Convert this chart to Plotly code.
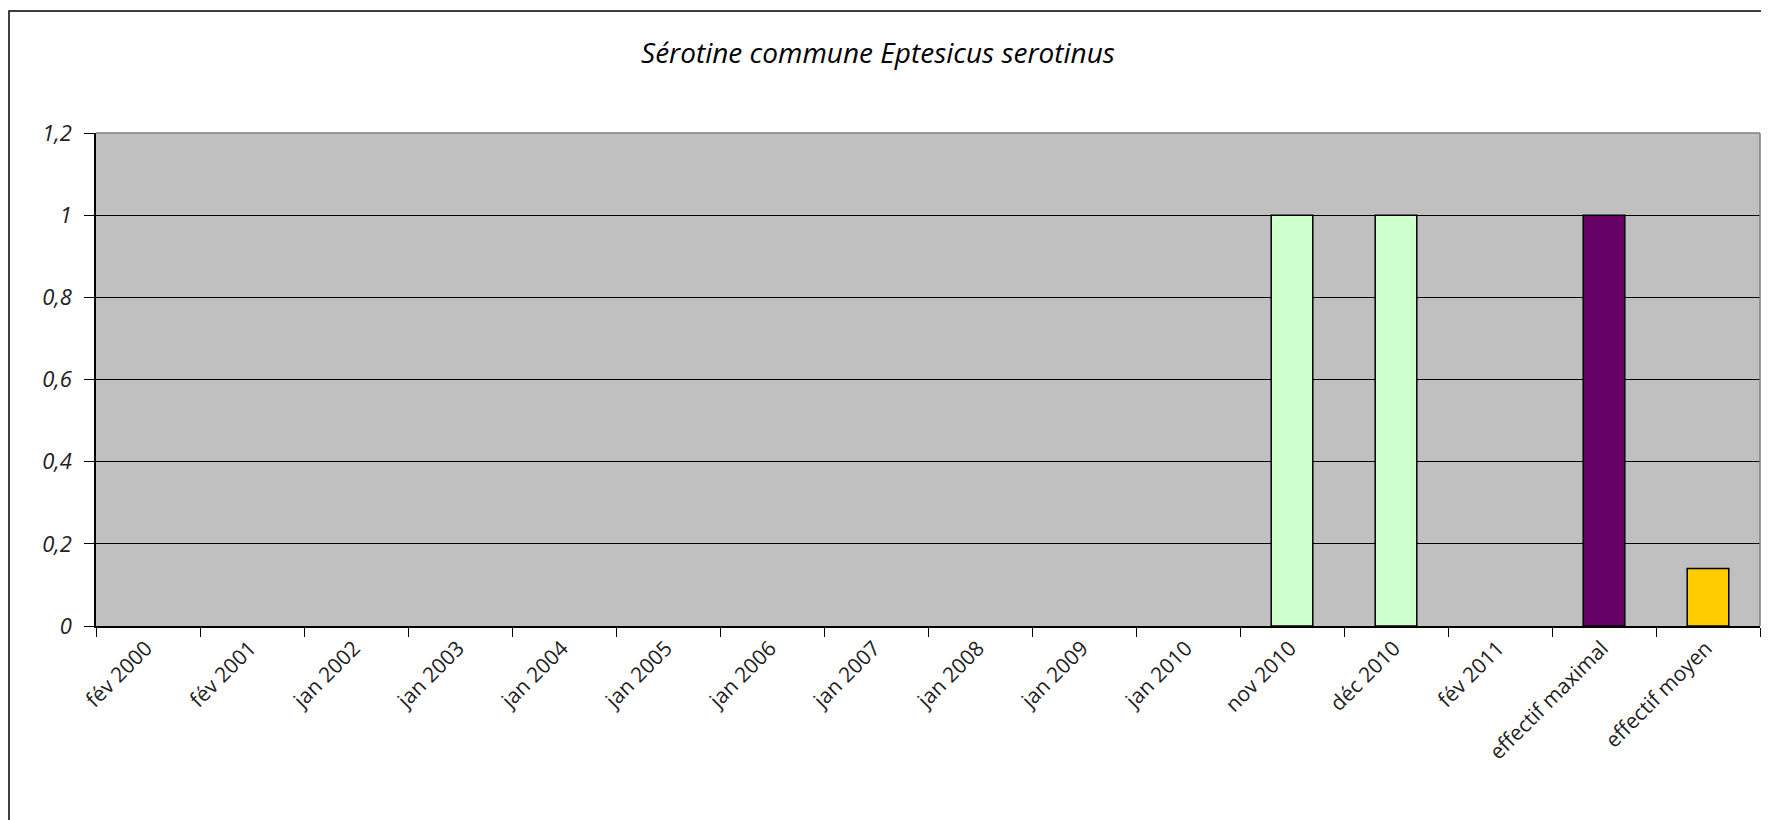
import plotly.graph_objects as go

categories = ["fév 2000", "fév 2001", "jan 2002", "jan 2003", "jan 2004", "jan 2005",
              "jan 2006", "jan 2007", "jan 2008", "jan 2009", "jan 2010", "nov 2010",
              "déc 2010", "fév 2011", "effectif maximal", "effectif moyen"]
values = [0, 0, 0, 0, 0, 0, 0, 0, 0, 0, 0, 1, 1, 0, 1, 0.14]
bar_colors = ["#CCFFCC"] * 14 + ["#660066", "#FFCC00"]
y_ticks = [0, 0.2, 0.4, 0.6, 0.8, 1.0, 1.2]

# page has an 8px body margin; figure sized to fill the 1769x820 window exactly
OFF = 8
W, H = 1769 - OFF, 820 - OFF
L, T = 96 - OFF, 133 - OFF
R = W - (1760 - OFF)
B = H - (626 - OFF)
pw, ph = W - L - R, H - T - B

line_widths = [1.5 if v > 0 else 0 for v in values]

fig = go.Figure()
fig.add_trace(go.Bar(
    x=categories, y=values, width=0.4,
    marker=dict(color=bar_colors, line=dict(color="#000000", width=line_widths)),
    showlegend=False,
))

def px_x(p):
    return (p - OFF - L) / pw

def px_y(p):
    return (H - B - (p - OFF)) / ph

fig.update_layout(
    width=W, height=H,
    margin=dict(l=L, r=R, t=T, b=B, autoexpand=False),
    paper_bgcolor="white",
    plot_bgcolor="#C0C0C0",
    separators=", ",
    title=dict(text="Sérotine commune Eptesicus serotinus",
               xref="paper", x=px_x(878), xanchor="center",
               yref="container", y=1 - (53 - OFF) / H, yanchor="middle",
               font=dict(family="Open Sans", size=28, color="#000000", style="italic")),
    xaxis=dict(
        type="category", automargin=False,
        tickson="boundaries", ticks="outside", ticklen=9, tickcolor="#000000", tickwidth=1.3,
        showline=True, linecolor="#000000", linewidth=1.5,
        showgrid=False, tickangle=-45, ticklabelshift=-2,
        tickfont=dict(family="Open Sans", size=21, color="#222222"),
    ),
    yaxis=dict(
        range=[0, 1.2], tickvals=y_ticks, automargin=False,
        ticks="outside", ticklen=10, tickcolor="#000000", tickwidth=1.3,
        showline=True, linecolor="#000000", linewidth=1.5,
        showgrid=True, gridcolor="#000000", gridwidth=1.3,
        zeroline=False, ticklabelstandoff=8,
        tickfont=dict(family="Open Sans", size=22, color="#222222", style="italic"),
    ),
    shapes=[
        dict(type="line", xref="paper", yref="paper", x0=0, x1=1, y0=1, y1=1,
             line=dict(color="#808080", width=1.5), layer="above"),
        dict(type="line", xref="paper", yref="paper", x0=1, x1=1, y0=0, y1=1,
             line=dict(color="#808080", width=1.5), layer="above"),
        dict(type="rect", xref="paper", yref="paper",
             x0=px_x(9), x1=px_x(1769 + 20), y0=px_y(820 + 20), y1=px_y(11),
             line=dict(color="#000000", width=1.5), layer="above"),
    ],
)

fig.write_html("out.html")
